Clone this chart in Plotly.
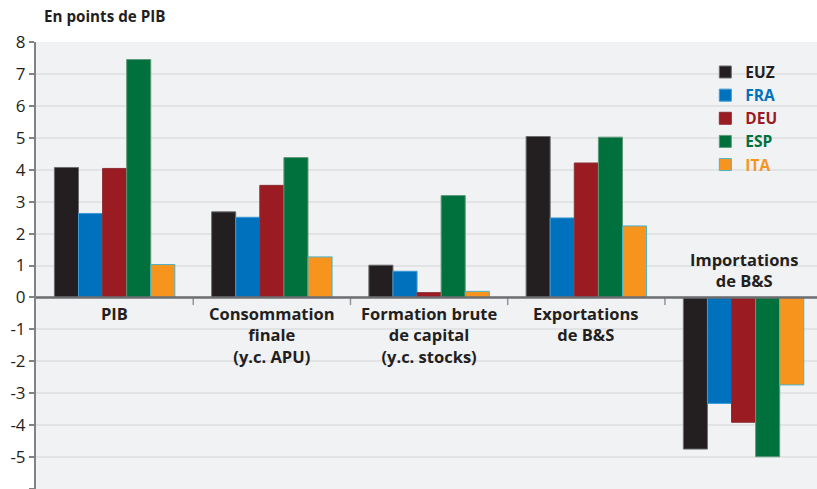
import plotly.graph_objects as go

categories = ["PIB", "Consommation finale (y.c. APU)", "Formation brute de capital (y.c. stocks)",
              "Exportations de B&S", "Importations de B&S"]
cat_labels = ["PIB", "Consommation<br>finale<br>(y.c. APU)", "Formation brute<br>de capital<br>(y.c. stocks)",
              "Exportations<br>de B&amp;S", "Importations<br>de B&amp;S"]
series_names = ["EUZ", "FRA", "DEU", "ESP", "ITA"]
EUZ = [4.07, 2.68, 1.01, 5.04, -4.75]
FRA = [2.63, 2.51, 0.82, 2.49, -3.32]
DEU = [4.04, 3.51, 0.15, 4.21, -3.91]
ESP = [7.45, 4.38, 3.19, 5.02, -4.99]
ITA = [1.03, 1.27, 0.19, 2.24, -2.74]
y_ticks = [8, 7, 6, 5, 4, 3, 2, 1, 0, -1, -2, -3, -4, -5, -6]

values = [EUZ, FRA, DEU, ESP, ITA]
colors = ["#231f20", "#0071bc", "#9b1b22", "#00703c", "#f7941d"]
outlines = ["#6d6e71", "#3d9ad6", "#8a3035", "#5f9a7a", "#4cb4c8"]

xs = list(range(len(categories)))
fig = go.Figure()
for name, vals, c, oc in zip(series_names, values, colors, outlines):
    fig.add_trace(go.Bar(
        x=xs, y=vals,
        name=f"<span style='color:{c}'><b>{name}</b></span>",
        marker=dict(color=c, line=dict(color=oc, width=1)),
        hovertext=categories,
    ))

font_family = "'Open Sans', 'Noto Sans', sans-serif"
dark = "#231f20"

annotations = []
for i, lab in enumerate(cat_labels):
    last = i == len(cat_labels) - 1
    annotations.append(dict(x=i, y=0, xref="x", yref="y", text=f"<b>{lab}</b>",
                            showarrow=False,
                            yanchor="bottom" if last else "top",
                            yshift=3 if last else -3,
                            font=dict(size=16.5, color=dark, family=font_family)))
annotations.append(dict(x=0.0077, y=1.0, xref="paper", yref="paper", yshift=26,
                        xanchor="left", yanchor="middle", text="<b>En points de PIB</b>",
                        showarrow=False, font=dict(size=15.2, color=dark, family=font_family)))

shapes = [dict(type="line", xref="x", yref="y", x0=i + 0.5, x1=i + 0.5, y0=0, y1=-0.24,
               line=dict(color="#939598", width=1.5)) for i in range(len(categories) - 1)]
shapes.append(dict(type="line", xref="paper", yref="y", x0=0, x1=1, y0=0, y1=0,
                   line=dict(color="#6d6e71", width=2.5)))

fig.update_layout(
    width=817, height=489,
    margin=dict(l=36, r=0, t=42, b=0),
    paper_bgcolor="white",
    plot_bgcolor="#f1f2f4",
    barmode="group",
    bargap=0.234,
    bargroupgap=0,
    font=dict(family=font_family, color=dark),
    showlegend=True,
    legend=dict(x=0.857, y=0.97, xanchor="left", yanchor="top",
                bgcolor="rgba(0,0,0,0)", font=dict(size=15.5, family=font_family),
                itemwidth=30, tracegroupgap=0),
    xaxis=dict(range=[-0.5, 4.467], showticklabels=False, showgrid=False, zeroline=False,
               showline=False, ticks="", automargin=False),
    yaxis=dict(range=[-6, 8], tickvals=y_ticks, ticktext=[str(v) for v in y_ticks],
               showgrid=True, gridcolor="#e2e3e5", gridwidth=1.5, zeroline=False,
               showline=True, linecolor="#808285", linewidth=2,
               ticks="outside", ticklen=5, tickcolor="#808285", tickwidth=1.5,
               automargin=False,
               tickfont=dict(size=17, color=dark, family=font_family)),
    annotations=annotations,
    shapes=shapes,
)

fig.write_html("out.html", config={"displayModeBar": False},
               post_script="document.body.style.margin='0';document.body.style.overflow='hidden';")
